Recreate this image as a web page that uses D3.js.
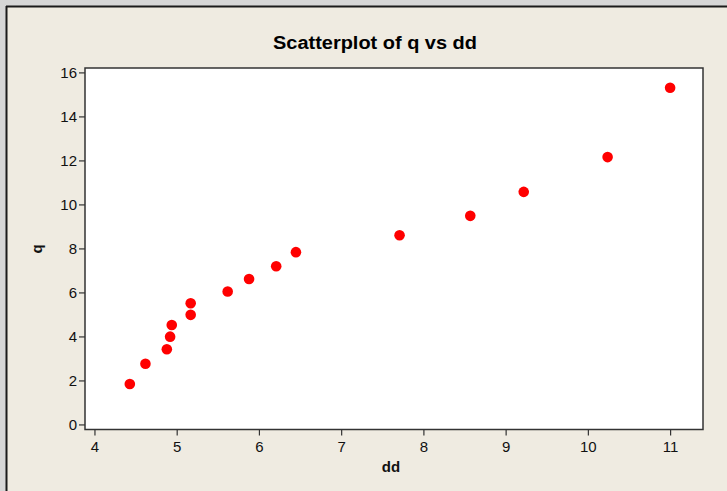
<!DOCTYPE html>
<html><head><meta charset="utf-8">
<script src="https://cdn.jsdelivr.net/npm/d3@7"></script>
<style>html,body{margin:0;padding:0;background:#d6d6d6;}svg{display:block;}</style>
</head><body>
<script>
const ddValues = [4.43, 4.62, 4.88, 4.92, 4.94, 5.17, 5.17, 5.62, 5.88, 6.21, 6.45, 7.71, 8.57, 9.22, 10.24, 11.0];
const qValues  = [1.84, 2.76, 3.42, 3.99, 4.52, 4.98, 5.51, 6.04, 6.61, 7.19, 7.83, 8.60, 9.48, 10.57, 12.15, 15.30];
const xTicks = [4, 5, 6, 7, 8, 9, 10, 11];
const yTicks = [0, 2, 4, 6, 8, 10, 12, 14, 16];

const W = 727, H = 491;
const svg = d3.select("body").append("svg").attr("width", W).attr("height", H);
svg.append("rect").attr("width", W).attr("height", H).attr("fill", "#d6d6d6");
svg.append("rect").attr("x", 6).attr("y", 6).attr("width", W - 6).attr("height", H - 6).attr("fill", "#efebe1");
svg.append("line").attr("x1", 6).attr("x2", W).attr("y1", 6.5).attr("y2", 6.5).attr("stroke", "#1a1a1a").attr("stroke-width", 2);
svg.append("line").attr("x1", 6.5).attr("x2", 6.5).attr("y1", 6).attr("y2", H).attr("stroke", "#1a1a1a").attr("stroke-width", 2);

const L = 85, R = 703, T = 68, B = 429.5;
const x = d3.scaleLinear().domain([3.885, 11.4]).range([L, R]);
const y = d3.scaleLinear().domain([-0.23, 16.2]).range([B, T]);

svg.append("rect").attr("x", L).attr("y", T).attr("width", R - L).attr("height", B - T).attr("fill", "#ffffff");

const font = "'Liberation Sans', Arial, sans-serif";
const xAxis = svg.append("g").attr("transform", `translate(0,${B})`)
  .call(d3.axisBottom(x).tickValues(xTicks).tickSize(6).tickPadding(4).tickFormat(d3.format("d")));
const yAxis = svg.append("g").attr("transform", `translate(${L},0)`)
  .call(d3.axisLeft(y).tickValues(yTicks).tickSize(6).tickPadding(2).tickFormat(d3.format("d")));
[xAxis, yAxis].forEach(g => {
  g.attr("font-size", null).attr("font-family", null);
  g.select(".domain").remove();
  g.selectAll(".tick line").attr("stroke", "#333").attr("stroke-width", 1.2);
  g.selectAll(".tick text").attr("fill", "#111").style("font-family", font).style("font-size", "15px");
});
xAxis.selectAll(".tick text").attr("dy", "0.85em");

svg.append("rect").attr("x", L).attr("y", T).attr("width", R - L).attr("height", B - T)
  .attr("fill", "none").attr("stroke", "#333").attr("stroke-width", 1.5);

svg.append("g").selectAll("circle").data(ddValues.map((d, i) => [d, qValues[i]])).join("circle")
  .attr("cx", d => x(d[0])).attr("cy", d => y(d[1])).attr("r", 5.3).attr("fill", "#ff0000");

svg.append("text").attr("x", 375).attr("y", 49).attr("text-anchor", "middle")
  .attr("textLength", 204).attr("lengthAdjust", "spacingAndGlyphs")
  .style("font-family", font).style("font-weight", "bold").style("font-size", "18px").attr("fill", "#000")
  .text("Scatterplot of q vs dd");
svg.append("text").attr("x", 391).attr("y", 472).attr("text-anchor", "middle")
  .style("font-family", font).style("font-weight", "bold").style("font-size", "15px").attr("fill", "#111")
  .text("dd");
svg.append("text").attr("transform", "translate(42,249) rotate(-90)").attr("text-anchor", "middle")
  .style("font-family", font).style("font-weight", "bold").style("font-size", "15px").attr("fill", "#111")
  .text("q");
</script>
</body></html>
